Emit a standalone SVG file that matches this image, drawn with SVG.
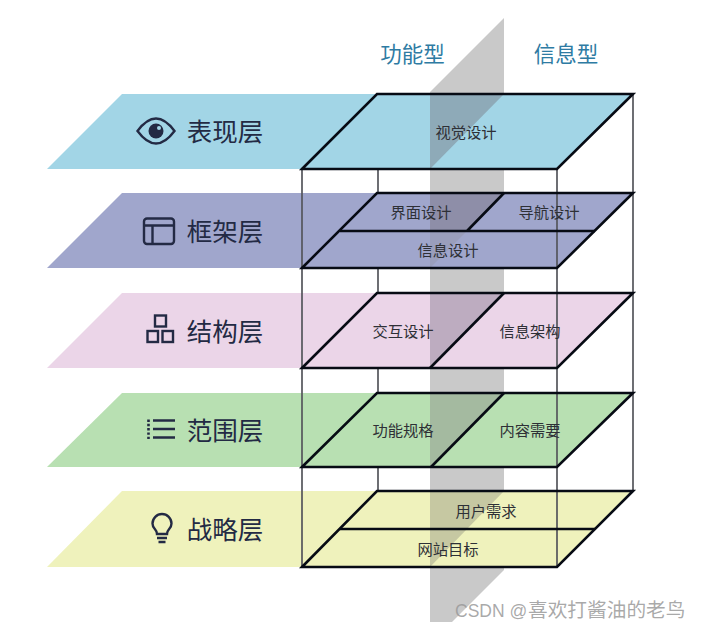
<svg xmlns="http://www.w3.org/2000/svg" width="702" height="629" viewBox="0 0 702 629">
<style>
.edge{fill:none;stroke:#070b14;stroke-width:2.600;stroke-linejoin:miter}
.wire{fill:none;stroke:#55565c;stroke-width:1.700}
.name{font-family:"Noto Sans CJK SC","Liberation Sans",sans-serif;font-size:25.500px;fill:#232a44;text-anchor:middle;dominant-baseline:central}
.head{font-family:"Noto Sans CJK SC","Liberation Sans",sans-serif;font-size:21.500px;fill:#2e7ba3;text-anchor:middle;dominant-baseline:central}
.item{font-family:"Noto Sans CJK SC","Liberation Sans",sans-serif;font-size:15.300px;fill:#2e3036;text-anchor:middle;dominant-baseline:central}
.ico{fill:none;stroke:#232a44;stroke-width:2.400}
</style>
<rect width="702" height="629" fill="#ffffff"/>
<g id="plane"><polygon points="430,92 504,18 504,570 452,622 430,622" fill="#c9c9c9"/></g>
<g id="frame-back"><path class="wire" d="M378 169V491M633 94V491"/></g>
<g id="layer-strategy">
<polygon points="47,567 122,491 633,491 557,567" fill="#eff2bc"/>
<polygon points="430,491 504,491 430,567" fill="#c6c8a2"/>
</g>
<g id="layer-scope">
<polygon points="47,467 122,393 633,393 557,467" fill="#b8e0b2"/>
<polygon points="430,393 504,393 431,467 430,467" fill="#a4baa0"/>
</g>
<g id="layer-structure">
<polygon points="47,368 122,293 633,293 557,368" fill="#ebd5e8"/>
<polygon points="430,293 504,293 430,368" fill="#bdacc0"/>
</g>
<g id="layer-skeleton">
<polygon points="47,268 122,193 633,193 557,268" fill="#a0a6cc"/>
<polygon points="430,193 504,193 467,231 430,231" fill="#8e8ea8"/>
<polygon points="430,231 467,231 430,268" fill="#9a9ebc"/>
</g>
<g id="layer-surface">
<polygon points="47,169 122,94 633,94 557,169" fill="#a2d5e6"/>
<polygon points="430,94 504,94 430,169" fill="#8eaab8"/>
</g>
<g id="connectors">
<path class="wire" d="M302 169V567M557 169V567"/>
<polygon class="edge" points="302,169 377,94 633,94 557,169"/>
<polygon class="edge" points="302,268 377,193 633,193 557,268"/>
<path class="edge" d="M340 231H595M467 231L504 193"/>
<polygon class="edge" points="302,368 377,293 633,293 557,368"/>
<path class="edge" d="M430 368L504 293"/>
<polygon class="edge" points="302,467 377,393 633,393 557,467"/>
<path class="edge" d="M431 467L504 393"/>
<polygon class="edge" points="302,567 377,491 633,491 557,567"/>
<path class="edge" d="M340 529H595"/>
</g>
<g id="headers">
<text class="head" x="412.500" y="52">功能型</text>
<text class="head" x="566" y="52">信息型</text>
</g>
<g id="node-surface">
<path class="ico" d="M137.500 131Q156 106 174.500 131Q156 156 137.500 131Z"/>
<circle cx="156" cy="131" r="7.500" fill="#232a44"/>
<circle cx="159" cy="128" r="2" fill="#a2d5e6"/>
<text class="name" x="225" y="129.500">表现层</text>
<text class="item" x="466" y="130.500">视觉设计</text>
</g>
<g id="node-skeleton">
<rect class="ico" x="144" y="218.500" width="30" height="25.500" rx="3"/>
<path class="ico" d="M144 225.500H174M152.500 225.500V244"/>
<text class="name" x="225" y="229.500">框架层</text>
<text class="item" x="421" y="210.500">界面设计</text>
<text class="item" x="549" y="210.500">导航设计</text>
<text class="item" x="448" y="248.500">信息设计</text>
</g>
<g id="node-structure">
<rect class="ico" x="155" y="315.500" width="11" height="11"/>
<rect class="ico" x="147.500" y="331" width="10.500" height="11"/>
<rect class="ico" x="162.500" y="331" width="10.500" height="11"/>
<text class="name" x="225" y="329.500">结构层</text>
<text class="item" x="403" y="329.500">交互设计</text>
<text class="item" x="530" y="329.500">信息架构</text>
</g>
<g id="node-scope">
<path class="ico" d="M153 420.500H175M153 429H175M153 437.500H175"/>
<path d="M148.500 419.500V439" fill="none" stroke="#232a44" stroke-width="2.600" stroke-dasharray="2.400 1.900"/>
<text class="name" x="225" y="428.500">范围层</text>
<text class="item" x="403" y="428.500">功能规格</text>
<text class="item" x="530" y="428.500">内容需要</text>
</g>
<g id="node-strategy">
<path class="ico" d="M157 534C157 529 152.500 529 152.500 523.500A9.500 9.500 0 0 1 171.500 523.500C171.500 529 167 529 167 534Z"/>
<path class="ico" d="M157 538H167M158.500 542H165.500"/>
<text class="name" x="225" y="527.500">战略层</text>
<text class="item" x="486" y="509.500">用户需求</text>
<text class="item" x="448" y="547.500">网站目标</text>
</g>
<text x="455" y="616.500" font-family="'Liberation Sans','Noto Sans CJK SC',sans-serif" font-size="17.500" fill="#9a9a9a" fill-opacity="0.85">CSDN @<tspan x="528" font-family="'Noto Sans CJK SC',sans-serif" font-size="19.700">喜欢打酱油的老鸟</tspan></text>
</svg>
